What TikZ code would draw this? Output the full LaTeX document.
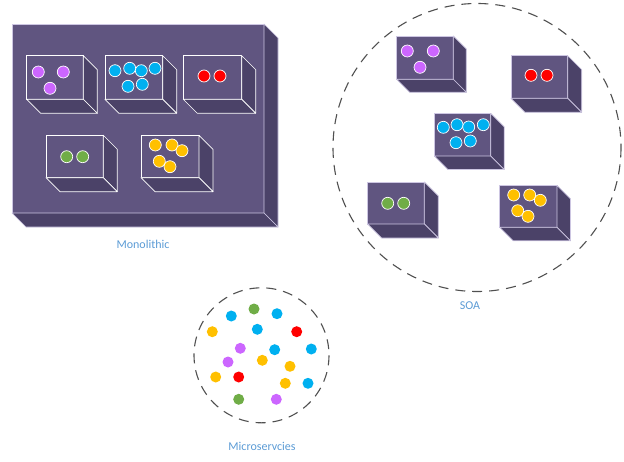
\documentclass[tikz,border=0pt]{standalone}
\usepackage{fontspec}
\setmainfont{Carlito}
\definecolor{boxfront}{HTML}{605580}
\definecolor{boxside}{HTML}{4B4268}
\definecolor{boxedge}{HTML}{CDC6E2}
\definecolor{dpurple}{HTML}{CC66FF}
\definecolor{dcyan}{HTML}{00B0F0}
\definecolor{dred}{HTML}{FF0000}
\definecolor{dgreen}{HTML}{70AD47}
\definecolor{dyellow}{HTML}{FFC000}
\definecolor{labelblue}{HTML}{5B9BD5}
\definecolor{dashgray}{HTML}{505050}
\tikzset{
  lbl/.style={text=labelblue, font=\fontsize{12}{14}\selectfont, inner sep=0pt},
  boundary/.style={draw=dashgray, line width=1.1pt, dash pattern=on 10pt off 7pt},
  sdot/.style={draw=white, line width=0.7pt},
  mdot/.style={draw=none},
}
% cube: x1 y1 x2 y2 depth edgecolour
\newcommand\mycube[6]{%
  \fill[boxfront,draw=#6,line width=0.7pt] (#1,#2) rectangle (#3,#4);
  \fill[boxside,draw=#6,line width=0.7pt,line join=round] (#3,#2) -- ++(#5,#5) -- (#3+#5,#4+#5) -- (#3,#4) -- cycle;
  \fill[boxside,draw=#6,line width=0.7pt,line join=round] (#1,#4) -- (#3,#4) -- (#3+#5,#4+#5) -- (#1+#5,#4+#5) -- cycle;
}
\newcommand\sd[3]{\fill[#3,sdot] (#1,#2) circle (6);}
\newcommand\md[3]{\fill[#3,mdot] (#1,#2) circle (5.5);}
\begin{document}
\begin{tikzpicture}[x=1pt,y=-1pt]
\useasboundingbox (0,0) rectangle (624,461);
% ---------- Monolithic ----------
\mycube{12}{24}{264}{213}{14}{boxedge}
\mycube{26.7}{55.7}{83.3}{99.3}{14}{white}
\mycube{105}{55.7}{162.7}{99.3}{14}{white}
\mycube{183.3}{55.7}{241.7}{99.3}{14}{white}
\mycube{46}{135.3}{103.3}{177.7}{14}{white}
\mycube{141}{135.3}{199}{177.7}{14}{white}
\sd{38.3}{72}{dpurple}\sd{63.3}{72}{dpurple}\sd{50}{88.3}{dpurple}
\sd{115}{70.7}{dcyan}\sd{129.7}{68.3}{dcyan}\sd{141.3}{70.7}{dcyan}\sd{155}{68.3}{dcyan}\sd{128}{86.3}{dcyan}\sd{142.3}{84.3}{dcyan}
\sd{204}{76}{dred}\sd{220}{76}{dred}
\sd{66.7}{156.7}{dgreen}\sd{82.7}{156.7}{dgreen}
\sd{155.3}{145}{dyellow}\sd{172}{145}{dyellow}\sd{182}{150.7}{dyellow}\sd{159.3}{161.3}{dyellow}\sd{170}{166.7}{dyellow}
\node[lbl] (mono) at (143,244) {Monolithic};
% ---------- SOA ----------
\draw[boundary] (477,147.5) circle (144);
\mycube{396.7}{36}{453.3}{79.3}{13}{boxedge}
\mycube{511}{55.7}{567.7}{98.3}{14}{boxedge}
\mycube{434.3}{113.3}{490.7}{156}{13.5}{boxedge}
\mycube{367.7}{182}{424.3}{224}{14}{boxedge}
\mycube{499.7}{185.3}{557}{227.3}{13.5}{boxedge}
\sd{407.3}{51}{dpurple}\sd{433.3}{51}{dpurple}\sd{420}{67.3}{dpurple}
\sd{531}{75.3}{dred}\sd{547}{75.3}{dred}
\sd{443.3}{127.3}{dcyan}\sd{457}{124.7}{dcyan}\sd{468.7}{127}{dcyan}\sd{483.3}{124.7}{dcyan}\sd{456}{142.7}{dcyan}\sd{470.3}{141}{dcyan}
\sd{387.7}{203.3}{dgreen}\sd{403.7}{203.3}{dgreen}
\sd{513.7}{195}{dyellow}\sd{529.7}{195}{dyellow}\sd{540.3}{200.3}{dyellow}\sd{517.7}{210.7}{dyellow}\sd{528}{216.3}{dyellow}
\node[lbl] (soa) at (470,306) {SOA};
% ---------- Microservices ----------
\draw[boundary] (261.5,355.3) circle (67.5);
\md{254}{309}{dgreen}
\md{231.3}{316}{dcyan}
\md{277}{313.7}{dcyan}
\md{212.3}{331.7}{dyellow}
\md{257.3}{329.3}{dcyan}
\md{296.7}{331.7}{dred}
\md{240.3}{348.3}{dpurple}
\md{274.7}{349.7}{dcyan}
\md{311.3}{349}{dcyan}
\md{228}{362}{dpurple}
\md{262.3}{360.3}{dyellow}
\md{290}{366.3}{dyellow}
\md{215.7}{377}{dyellow}
\md{238.7}{377}{dred}
\md{285.3}{383.3}{dyellow}
\md{308}{383.3}{dcyan}
\md{238.7}{399.3}{dgreen}
\md{276.3}{399.3}{dpurple}
\node[lbl] (micro) at (262,446) {Microservcies};
\end{tikzpicture}
\end{document}
